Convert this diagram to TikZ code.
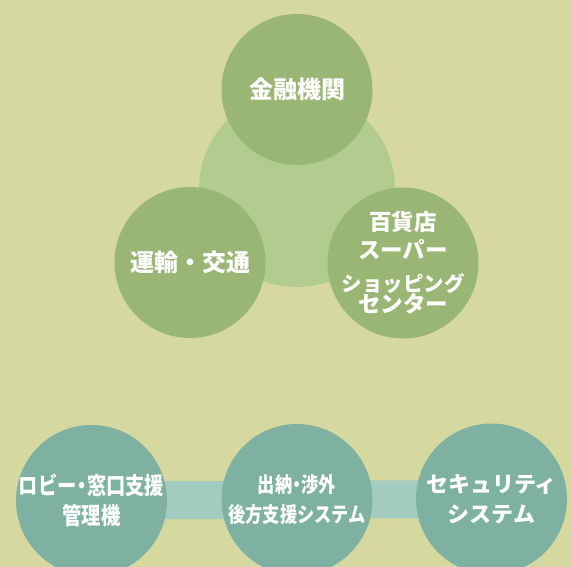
\documentclass[tikz,border=0pt]{standalone}
\usepackage{fontspec}
\newfontfamily\jp{Noto Sans CJK JP}
\newfontfamily\jpn{Noto Sans CJK JP}[FakeStretch=0.82]
\usetikzlibrary{backgrounds}
\definecolor{bgc}{HTML}{D5D9A0}
\definecolor{hubc}{HTML}{B2CC90}
\definecolor{grnc}{HTML}{9AB674}
\definecolor{tealc}{HTML}{7EB1A1}
\definecolor{barc}{HTML}{A3CBC0}
\tikzset{circ/.style={circle,minimum size=151pt,inner sep=-10pt,text=white,align=center}}
\tikzset{grn/.style={circ,fill=grnc,font=\jp\bfseries\fontsize{24}{28}\selectfont}}
\tikzset{tl/.style={circ,fill=tealc,font=\jpn\bfseries\fontsize{22}{30}\selectfont}}
\tikzset{bar/.style={draw=barc,line width=38pt}}
\newcommand\ndot{\makebox[0.45em]{・}}

\begin{document}
\begin{tikzpicture}[x=1pt,y=-1pt]
    \useasboundingbox (0,0) rectangle (571,567);
    \clip (0,0) rectangle (571,567);
    % top group
    \node[circ,fill=hubc,minimum size=196pt] (hub) at (297,189) {};
    \node[grn] (F) at (297,89.5) {金融機関};
    \node[grn] (T) at (190,262.5) {運輸・交通};
    \node[grn,font=\jp\bfseries\fontsize{22.5}{28}\selectfont] (R) at (403,263)
      {百貨店\\スーパー\\[5pt]{\fontsize{20.5}{28}\selectfont ショッピング}\\[-7pt]センター};
    % bottom row
    \node[tl,font=\jpn\bfseries\fontsize{23.5}{30}\selectfont] (B1) at (91.5,500.5) {ロビー\ndot 窓口支援\\管理機};
    \node[tl,font=\jpn\bfseries\fontsize{21}{30}\selectfont] (B2) at (297,499.5) {出納\ndot 渉外\\後方支援システム};
    \node[tl,font=\jp\bfseries\fontsize{22}{30}\selectfont] (B3) at (491.5,499) {セキュリティ\\システム};
    \begin{scope}[on background layer]
      \fill[bgc] (0,0) rectangle (571,567);
      \draw[bar] (B1.center) -- (B3.center);
    \end{scope}
  \end{tikzpicture}
\end{document}
